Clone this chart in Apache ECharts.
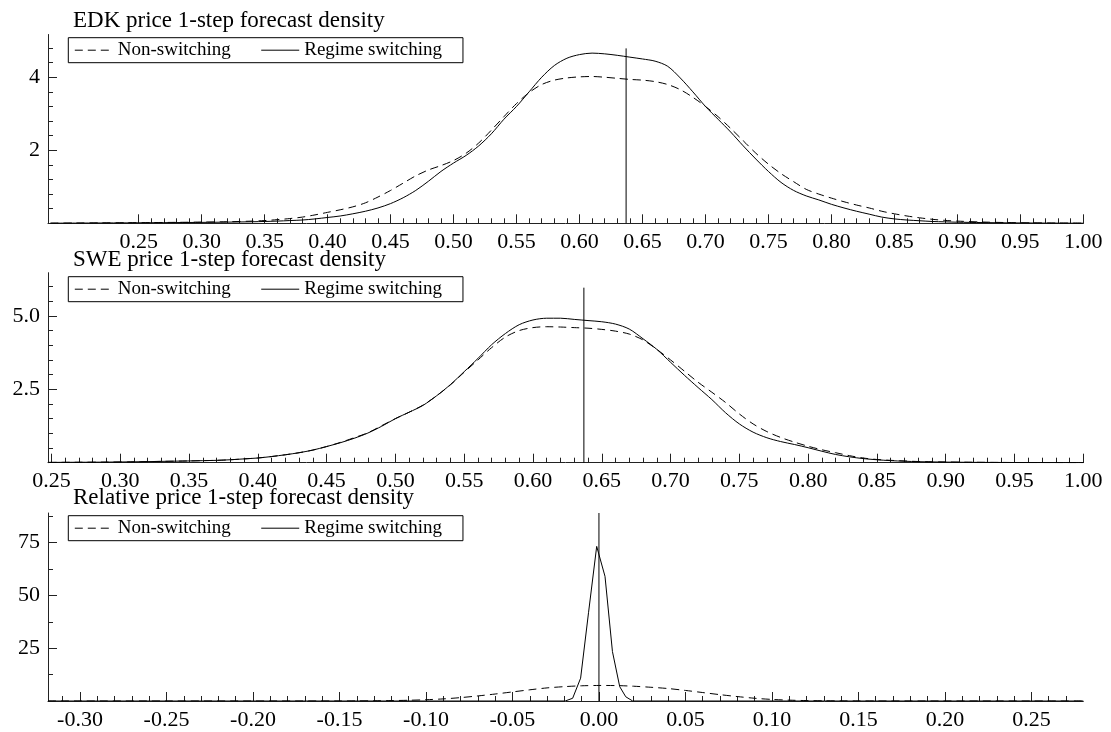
<!DOCTYPE html>
<html><head><meta charset="utf-8">
<script src="https://cdn.jsdelivr.net/npm/echarts@6/dist/echarts.min.js"></script>
<style>html,body{margin:0;padding:0;background:#fff}#c{width:1111px;height:732px}</style>
</head><body><div id="c"></div>
<script>
// ---------- Titles & legend names ----------
const titles = ['EDK price 1-step forecast density', 'SWE price 1-step forecast density', 'Relative price 1-step forecast density'];
const seriesNames = ['Non-switching', 'Regime switching'];

// ---------- Panel 1: EDK ----------
const edkX = [0.18,0.20,0.22,0.24,0.26,0.28,0.30,0.32,0.34,0.35,0.36,0.37,0.38,0.39,0.40,0.41,0.42,0.43,0.44,0.45,0.46,0.47,0.48,0.49,0.50,0.51,0.52,0.53,0.54,0.55,0.56,0.57,0.58,0.59,0.60,0.61,0.62,0.63,0.64,0.65,0.66,0.67,0.68,0.69,0.70,0.71,0.72,0.73,0.74,0.75,0.76,0.77,0.78,0.79,0.80,0.81,0.82,0.83,0.84,0.85,0.86,0.87,0.88,0.89,0.90,0.92,0.94,0.96,0.98,1.00];
const edkNonSwitching = [0.005,0.008,0.012,0.016,0.02,0.026,0.033,0.042,0.06,0.075,0.1,0.13,0.17,0.23,0.3,0.37,0.45,0.56,0.72,0.9,1.1,1.3,1.46,1.58,1.72,1.92,2.2,2.55,2.92,3.28,3.58,3.8,3.92,3.98,4.01,4.02,4.0,3.97,3.94,3.92,3.88,3.8,3.66,3.45,3.2,2.92,2.6,2.26,1.92,1.62,1.36,1.14,0.93,0.8,0.69,0.59,0.5,0.42,0.33,0.26,0.2,0.15,0.11,0.08,0.06,0.035,0.02,0.012,0.007,0.004];
const edkRegime = [0.003,0.006,0.009,0.012,0.016,0.02,0.025,0.032,0.042,0.05,0.06,0.075,0.09,0.12,0.16,0.2,0.26,0.33,0.42,0.54,0.7,0.9,1.15,1.42,1.65,1.86,2.12,2.45,2.85,3.2,3.6,4.0,4.32,4.52,4.62,4.66,4.64,4.6,4.55,4.5,4.44,4.3,3.98,3.6,3.2,2.85,2.5,2.12,1.76,1.42,1.12,0.9,0.75,0.64,0.52,0.42,0.33,0.25,0.17,0.12,0.09,0.07,0.05,0.04,0.03,0.02,0.012,0.008,0.005,0.003];
const edkActual = [0.637, 4.79]; // x position, line height
const edkXRange = [0.178, 1.0];
const edkYMax = 5.17;
const edkXTicks = [0.25,0.30,0.35,0.40,0.45,0.50,0.55,0.60,0.65,0.70,0.75,0.80,0.85,0.90,0.95,1.00];
const edkYTicks = [2, 4];

// ---------- Panel 2: SWE ----------
const sweX = [0.248,0.27,0.29,0.31,0.33,0.35,0.36,0.37,0.38,0.39,0.40,0.41,0.42,0.43,0.44,0.45,0.46,0.47,0.48,0.49,0.50,0.51,0.52,0.53,0.54,0.55,0.56,0.57,0.58,0.59,0.60,0.61,0.62,0.63,0.64,0.65,0.66,0.67,0.68,0.69,0.70,0.71,0.72,0.73,0.74,0.75,0.76,0.77,0.78,0.79,0.80,0.81,0.82,0.83,0.84,0.85,0.86,0.87,0.88,0.89,0.90,0.92,0.94,0.96,0.98,1.00];
const sweNonSwitching = [0.01,0.015,0.02,0.03,0.045,0.06,0.07,0.08,0.1,0.13,0.16,0.21,0.27,0.34,0.43,0.55,0.69,0.85,1.02,1.26,1.5,1.72,1.96,2.28,2.65,3.08,3.5,3.92,4.28,4.5,4.6,4.63,4.62,4.6,4.58,4.54,4.48,4.38,4.18,3.86,3.5,3.12,2.74,2.4,2.05,1.66,1.32,1.06,0.86,0.7,0.56,0.44,0.34,0.24,0.16,0.11,0.08,0.06,0.04,0.03,0.025,0.015,0.009,0.005,0.003,0.002];
const sweRegime = [0.01,0.015,0.02,0.03,0.045,0.06,0.07,0.08,0.1,0.13,0.16,0.21,0.27,0.34,0.43,0.55,0.68,0.83,1.01,1.24,1.5,1.72,1.95,2.28,2.66,3.1,3.55,4.02,4.4,4.7,4.86,4.92,4.92,4.88,4.84,4.8,4.72,4.55,4.22,3.86,3.42,2.98,2.56,2.15,1.7,1.32,1.04,0.85,0.72,0.62,0.51,0.39,0.28,0.2,0.14,0.1,0.07,0.05,0.035,0.027,0.02,0.012,0.008,0.005,0.003,0.002];
const sweActual = [0.637, 5.96];
const sweXRange = [0.2475, 1.0];
const sweYMax = 6.47;
const sweXTicks = [0.25,0.30,0.35,0.40,0.45,0.50,0.55,0.60,0.65,0.70,0.75,0.80,0.85,0.90,0.95,1.00];
const sweYTicks = [2.5, 5.0];

// ---------- Panel 3: Relative ----------
const relX = [-0.3185,-0.15,-0.14,-0.13,-0.12,-0.11,-0.10,-0.09,-0.08,-0.07,-0.06,-0.05,-0.04,-0.03,-0.02,-0.01,0.00,0.01,0.02,0.03,0.04,0.05,0.06,0.07,0.08,0.09,0.10,0.11,0.12,0.13,0.14,0.15,0.16,0.28];
const relNonSwitching = [0,0.01,0.05,0.1,0.2,0.35,0.6,1.0,1.6,2.4,3.3,4.3,5.3,6.2,6.8,7.2,7.35,7.3,7.0,6.5,5.9,5.0,4.0,3.0,2.1,1.3,0.75,0.4,0.2,0.1,0.05,0.02,0.005,0];
const relRegimeX = [-0.3185,-0.1,-0.0195,-0.0152,-0.0106,-0.0060,-0.0013,0.0035,0.0078,0.0120,0.0155,0.0195,0.1,0.28];
const relRegime = [0,0,0,1.3,10.8,42,73.2,59,23.4,6.8,2.0,0,0,0];
const relActual = [0.0, 89];
const relXRange = [-0.3185, 0.28];
const relYMax = 89;
const relXTicks = [-0.30,-0.25,-0.20,-0.15,-0.10,-0.05,0.00,0.05,0.10,0.15,0.20,0.25];
const relYTicks = [25, 50, 75];

// ---------- minor tick positions ----------
function steps(a, b, st) { const out = []; const n = Math.round((b - a) / st); for (let i = 0; i <= n; i++) out.push(+(a + i * st).toFixed(4)); return out; }
const edkXMinor = steps(0.25, 1.00, 0.01);
const edkYMinor = steps(0.4, 4.8, 0.4);
const sweXMinor = steps(0.25, 1.00, 0.01);
const sweYMinor = steps(0.5, 6.0, 0.5);
const relXMinor = steps(-0.31, 0.27, 0.01);
const relYMinor = [12.5, 37.5, 62.5, 87.5];

// ---------- layout ----------
const FONT = 'Liberation Serif';
const INK = '#000';
const AXC = '#222';
const grids = [
  { left: 48, top: 34.5, width: 1035.3, height: 188.8 },
  { left: 48, top: 272.7, width: 1035.3, height: 190 },
  { left: 48, top: 513, width: 1035.3, height: 188 }
];
const titleTops = [9, 248, 486.7];
const legendTops = [37.7, 276.7, 515.7];

const panels = [
  { xr: edkXRange, ymax: edkYMax, xt: edkXTicks, xm: edkXMinor, yt: edkYTicks, ym: edkYMinor, yf: v => String(v),
    x: edkX, ns: edkNonSwitching, rx: edkX, rs: edkRegime, act: edkActual, smoothR: 0.3 },
  { xr: sweXRange, ymax: sweYMax, xt: sweXTicks, xm: sweXMinor, yt: sweYTicks, ym: sweYMinor, yf: v => v.toFixed(1),
    x: sweX, ns: sweNonSwitching, rx: sweX, rs: sweRegime, act: sweActual, smoothR: 0.3 },
  { xr: relXRange, ymax: relYMax, xt: relXTicks, xm: relXMinor, yt: relYTicks, ym: relYMinor, yf: v => String(v),
    x: relX, ns: relNonSwitching, rx: relRegimeX, rs: relRegime, act: relActual, smoothR: false }
];

const zip = (xs, ys) => xs.map((x, i) => [x, ys[i]]);

const xAxis = [], yAxis = [], series = [], title = [], legend = [];
panels.forEach((p, g) => {
  const lbl = { fontFamily: FONT, fontSize: 22, color: INK };
  xAxis.push({
    type: 'value', gridIndex: g, min: p.xr[0], max: p.xr[1], position: 'bottom',
    axisLine: { show: true, onZero: false, lineStyle: { color: AXC, width: 1 } },
    axisTick: { show: true, inside: true, length: 9, customValues: p.xt, lineStyle: { color: AXC, width: 1 } },
    axisLabel: Object.assign({ show: true, customValues: p.xt, margin: 8, formatter: v => v.toFixed(2) }, lbl),
    splitLine: { show: false }
  });
  xAxis.push({
    type: 'value', gridIndex: g, min: p.xr[0], max: p.xr[1], position: 'bottom', offset: 0,
    axisLine: { show: false, onZero: false },
    axisTick: { show: true, inside: true, length: 5, customValues: p.xm, lineStyle: { color: AXC, width: 1 } },
    axisLabel: { show: false },
    splitLine: { show: false }
  });
  yAxis.push({
    type: 'value', gridIndex: g, min: 0, max: p.ymax, position: 'left',
    axisLine: { show: true, onZero: false, lineStyle: { color: AXC, width: 1 } },
    axisTick: { show: true, inside: true, length: 9, customValues: p.yt, lineStyle: { color: AXC, width: 1 } },
    axisLabel: Object.assign({ show: true, customValues: p.yt, margin: 8, formatter: p.yf }, lbl),
    splitLine: { show: false }
  });
  yAxis.push({
    type: 'value', gridIndex: g, min: 0, max: p.ymax, position: 'left', offset: 0,
    axisLine: { show: false, onZero: false },
    axisTick: { show: true, inside: true, length: 5, customValues: p.ym, lineStyle: { color: AXC, width: 1 } },
    axisLabel: { show: false },
    splitLine: { show: false }
  });
  series.push({
    name: seriesNames[0], type: 'line', xAxisIndex: 2 * g, yAxisIndex: 2 * g,
    data: zip(p.x, p.ns), showSymbol: false, symbol: 'none', smooth: 0.3,
    lineStyle: { color: INK, width: 1, type: [8, 5] }, itemStyle: { color: INK }, z: 3
  });
  series.push({
    name: seriesNames[1], type: 'line', xAxisIndex: 2 * g, yAxisIndex: 2 * g,
    data: zip(p.rx, p.rs), showSymbol: false, symbol: 'none', smooth: p.smoothR,
    lineStyle: { color: INK, width: 1, type: 'solid' }, itemStyle: { color: INK }, z: 3
  });
  series.push({
    name: 'Actual', type: 'line', xAxisIndex: 2 * g, yAxisIndex: 2 * g,
    data: [[p.act[0], 0], [p.act[0], p.act[1]]], showSymbol: false, symbol: 'none',
    lineStyle: { color: INK, width: 1 }, itemStyle: { color: INK }, z: 4
  });
  title.push({
    text: titles[g], left: 73, top: titleTops[g], padding: 0,
    textStyle: { fontFamily: FONT, fontSize: 23, fontWeight: 'normal', color: INK, lineHeight: 23 }
  });
  legend.push({
    data: seriesNames, left: 68.3, top: legendTops[g], orient: 'horizontal',
    padding: [3, 21, 3, 6], itemGap: 30, itemWidth: 38, itemHeight: 14,
    borderColor: '#000', borderWidth: 1, borderRadius: 0, backgroundColor: '#fff',
    selectedMode: false,
    itemStyle: { opacity: 0, borderWidth: 0 },
    lineStyle: { width: 1 },
    textStyle: { fontFamily: FONT, fontSize: 19, color: INK, lineHeight: 19 }
  });
});

const chart = echarts.init(document.getElementById('c'), null, { renderer: 'canvas' });
chart.setOption({
  animation: false,
  backgroundColor: '#fff',
  grid: grids,
  title, legend, xAxis, yAxis, series
});
</script>
</body></html>
